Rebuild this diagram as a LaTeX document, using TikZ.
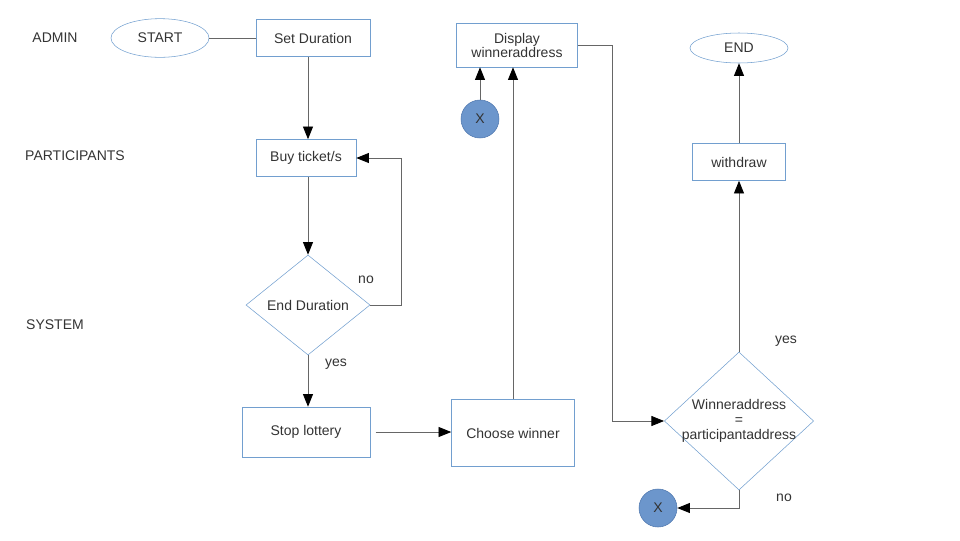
\documentclass[tikz,border=0pt]{standalone}
\usepackage{fontspec}
\setmainfont{Liberation Sans}
\usetikzlibrary{shapes.geometric,arrows.meta}
\definecolor{boxblue}{RGB}{114,159,207}
\definecolor{dotfill}{RGB}{108,150,204}
\definecolor{dotline}{RGB}{80,120,175}
\definecolor{ink}{RGB}{51,51,51}

\begin{document}
\begin{tikzpicture}[x=0.75pt, y=-0.75pt,
    every node/.style={font=\fontsize{10.5}{12.5}\selectfont, text=ink},
    process/.style={draw=boxblue, rectangle, inner sep=2pt},
    terminal/.style={draw=boxblue, ellipse, inner sep=0pt},
    decision/.style={draw=boxblue, diamond, inner sep=0pt, aspect=1.2},
    connector/.style={draw=dotline, fill=dotfill, circle, inner sep=0pt, minimum size=28.5pt},
    wire/.style={draw=black!60, line width=0.6pt},
    flow/.style={wire, -{Triangle[length=9.5pt, width=7.5pt, color=black]}}]
  \useasboundingbox (0,0) rectangle (960,540);

  % lanes
  \node (admin) at (55,38) {ADMIN};
  \node (participants) at (75,156) {PARTICIPANTS};
  \node (system) at (55,325) {SYSTEM};

  % admin
  \node[terminal, minimum width=73.5pt, minimum height=29pt] (start) at (160,38) {START};
  \node[process, minimum width=85.5pt, minimum height=27.75pt] (setdur) at (313,38) {Set Duration};
  \draw[wire] (start.east) -- (start.east -| setdur.west);

  % participants
  \node[process, minimum width=75pt, minimum height=27.75pt] (buy) at (306,158) {Buy ticket/s};
  \node[decision, minimum width=93pt, minimum height=75pt] (dur) at (308,305) {End Duration};
  \draw[flow] (setdur.south -| dur.north) -- (buy.north -| dur.north);
  \draw[flow] (buy.south -| dur.north) -- (dur.north);

  % no: buy again
  \draw[flow] (dur.east) -- ++(31,0) |- (buy.east);
  \node (no1) at (366,280) {no};

  % yes: stop
  \node[process, minimum width=96pt, minimum height=37.5pt] (stop) at (306,432) {Stop lottery};
  \draw[flow] (dur.south) -- (dur.south |- stop.north);
  \node (yes1) at (336,364) {yes};

  % system
  \node[process, minimum width=92.25pt, minimum height=50.25pt] (choose) at (513,433) {Choose winner};
  \draw[flow, shorten <=4pt] (stop.east) -- (stop.east -| choose.west);
  \node[process, minimum width=90.75pt, minimum height=33pt, align=center] (display) at (517,45) {Display\\[-2pt]winneraddress};
  \draw[flow] (choose.north) -- (choose.north |- display.south);
  \node[connector] (xa) at (480,119) {X};
  \draw[flow] (xa.north) -- (xa.north |- display.south);

  % check winner
  \node[decision, minimum width=112pt, minimum height=103.5pt,
        label={[align=center, font=\fontsize{10.5}{11.5}\selectfont]center:Winneraddress\\=\\participantaddress}] (check) at (739,421) {};
  \draw[flow] (display.east) -- ++(35,0) |- (check.west);

  % yes: withdraw
  \node[process, minimum width=70pt, minimum height=27.75pt] (withdraw) at (739,162) {withdraw};
  \node[terminal, minimum width=73.5pt, minimum height=22.5pt] (end) at (739,48) {END};
  \draw[flow] (check.north) -- (withdraw.south);
  \draw[flow] (withdraw.north) -- (end.south);
  \node (yes2) at (786,341) {yes};

  % no: back to X
  \node[connector] (xb) at (658,508) {X};
  \draw[flow] (check.south) |- (xb.east);
  \node (no2) at (784,498) {no};
\end{tikzpicture}
\end{document}
